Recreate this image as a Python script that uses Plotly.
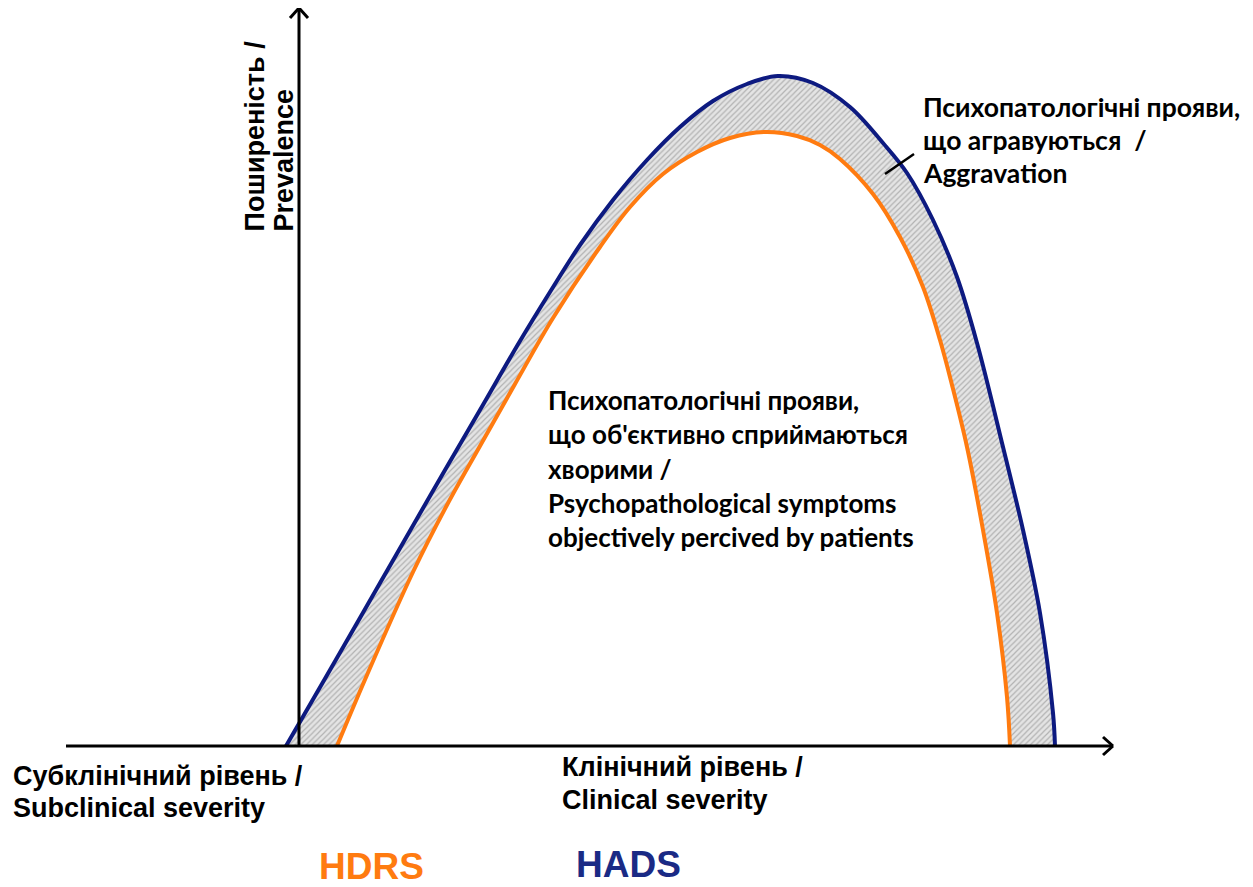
import plotly.graph_objects as go

# ---- layout helpers: page pixel -> data units (origin at the axes intersection) ----
W, H = 1253, 887
PAGE_MARGIN = 8           # default <body> margin of the html page
FW, FH = W - 2 * PAGE_MARGIN, H - PAGE_MARGIN
OX, OY = 299, 746         # page pixel position of origin


def dx(px):
    return px - OX


def dy(py):
    return OY - py


# ---- data (severity vs prevalence) ----
hads_severity = [-13, 31, 81, 131, 181, 221, 251, 281, 314, 348, 381, 414, 448, 479,
                 514, 551, 584, 608, 634, 658, 678, 704, 724, 741, 754, 756]
hads_prevalence = [0, 76, 163, 250, 336, 405, 454, 501, 546, 586, 619, 645, 662, 670,
                   663, 639, 603, 573, 526, 469, 403, 299, 216, 133, 33, 0]

hdrs_severity = [38, 68, 114, 148, 181, 216, 254, 301, 331, 364, 398, 431, 466, 498,
                 521, 541, 574, 601, 624, 641, 653, 668, 684, 698, 708, 711]
hdrs_prevalence = [0, 71, 174, 241, 300, 362, 428, 499, 539, 572, 594, 608, 614, 610,
                   601, 587, 552, 509, 459, 406, 361, 299, 216, 133, 49, 0]

y_label_lines = ["Поширеність /", "Prevalence"]
subclinical_lines = ["Субклінічний рівень /", "Subclinical severity"]
clinical_lines = ["Клінічний рівень /", "Clinical severity"]
inner_lines = ["Психопатологічні прояви,", "що об'єктивно сприймаються", "хворими /",
               "Psychopathological symptoms", "objectively percived by patients"]
aggr_lines = ["Психопатологічні прояви,", "що агравуються  /", "Aggravation"]
scale_names = ["HDRS", "HADS"]

BLUE = "#0d1a80"
ORANGE = "#ff7b10"
SMOOTH = 1.0

fig = go.Figure()

# hatched band between the curves (orange boundary, then blue filled to it)
fig.add_trace(go.Scatter(x=hdrs_severity, y=hdrs_prevalence, mode="lines",
                         line=dict(width=0, shape="spline", smoothing=SMOOTH),
                         hoverinfo="skip"))
fig.add_trace(go.Scatter(
    x=hads_severity, y=hads_prevalence,
    mode="lines", line=dict(width=0, shape="spline", smoothing=SMOOTH),
    fill="tonexty", fillcolor="#e0e0e0",
    fillpattern=dict(shape="/", bgcolor="#e4e4e4", fgcolor="#808080", size=4, solidity=0.3),
    hoverinfo="skip"))

fig.add_trace(go.Scatter(x=hdrs_severity, y=hdrs_prevalence, mode="lines",
                         line=dict(color=ORANGE, width=4, shape="spline", smoothing=SMOOTH),
                         name="HDRS"))
fig.add_trace(go.Scatter(x=hads_severity, y=hads_prevalence, mode="lines",
                         line=dict(color=BLUE, width=4, shape="spline", smoothing=SMOOTH),
                         name="HADS"))

shapes = []
axis_line = dict(color="black", width=3)
# x axis with chevron
shapes.append(dict(type="line", x0=dx(66), y0=0, x1=dx(1112), y1=0, line=axis_line, layer="above"))
shapes.append(dict(type="line", x0=dx(1103), y0=dy(737), x1=dx(1113), y1=0, line=axis_line))
shapes.append(dict(type="line", x0=dx(1103), y0=dy(755), x1=dx(1113), y1=0, line=axis_line))
# y axis with chevron
shapes.append(dict(type="line", x0=0, y0=0, x1=0, y1=dy(9), line=axis_line, layer="above"))
shapes.append(dict(type="line", x0=dx(290), y0=dy(18), x1=0, y1=dy(8), line=axis_line))
shapes.append(dict(type="line", x0=dx(308), y0=dy(18), x1=0, y1=dy(8), line=axis_line))
# leader line for aggravation label
shapes.append(dict(type="line", x0=dx(885), y0=dy(174), x1=dx(914), y1=dy(154),
                   line=dict(color="black", width=2.5)))

annotations = []
arial_bold = "Liberation Sans"
calibri = "Lato"


def add_text(text, px, py, size, family, color="black", xanchor="left", yanchor="middle",
             angle=0, bold=True):
    annotations.append(dict(
        text=f"<b>{text}</b>" if bold else text, x=dx(px), y=dy(py), xref="x", yref="y",
        showarrow=False, xanchor=xanchor, yanchor=yanchor, textangle=angle,
        font=dict(size=size, family=family, color=color)))


# y label (rotated)
add_text(y_label_lines[0], 254, 234, 27, arial_bold, xanchor="center", yanchor="bottom", angle=-90)
add_text(y_label_lines[1], 283, 234, 27, arial_bold, xanchor="center", yanchor="bottom", angle=-90)

# axis region labels
for i, t in enumerate(subclinical_lines):
    add_text(t, 11, 776 + 32 * i, 27, arial_bold)
for i, t in enumerate(clinical_lines):
    add_text(t, 560, 767 + 33 * i, 27, arial_bold)

# inner text
for i, t in enumerate(inner_lines):
    add_text(t, 546, 400 + 34.3 * i, 26, calibri)

# aggravation text
for i, t in enumerate(aggr_lines):
    add_text(t, 921, 107 + 33 * i, 26.5, calibri)

# scale names
add_text(scale_names[0], 317, 866, 37, arial_bold, color=ORANGE)
add_text(scale_names[1], 574, 864, 37, arial_bold, color="#1a2a85")

fig.update_layout(
    width=FW, height=FH, margin=dict(l=0, r=0, t=0, b=0),
    paper_bgcolor="white", plot_bgcolor="white", showlegend=False,
    xaxis=dict(range=[dx(PAGE_MARGIN), dx(PAGE_MARGIN + FW)], visible=False, fixedrange=True),
    yaxis=dict(range=[dy(PAGE_MARGIN + FH), dy(PAGE_MARGIN)], visible=False, fixedrange=True),
    shapes=shapes, annotations=annotations)

fig.write_html("out.html")
